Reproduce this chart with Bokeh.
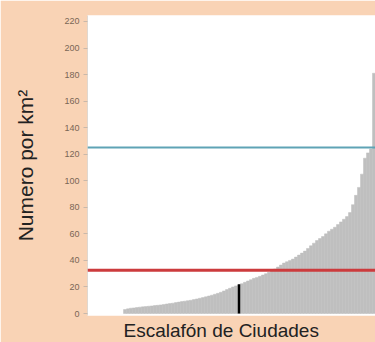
from bokeh.plotting import figure
from bokeh.models import Range1d, Span, Title, FixedTicker
from bokeh.embed import file_html
from bokeh.resources import INLINE

# Density (number per km²) by city, sorted ascending (city rank 0..83)
densities = [3, 3.5, 4, 4.2, 4.5, 4.8, 5, 5.2, 5.5, 5.7,
             6, 6.2, 6.5, 6.8, 7.2, 7.5, 7.8, 8.2, 8.6, 9,
             9.3, 9.7, 10, 10.5, 11, 11.5, 12, 12.6, 13.2, 13.8,
             14.5, 15.2, 16, 17, 18, 19, 20, 20.8, 21.5, 22.5,
             23.5, 24.5, 25.5, 26.5, 27.2, 28, 29, 30, 31, 32,
             33.5, 35, 36.5, 38, 39, 40, 41, 42.5, 44, 45.5,
             47, 49, 51, 53, 55, 56.5, 58, 60, 62, 63.5,
             65, 67, 69, 71, 73, 76, 82, 89, 95, 105,
             117, 121, 124, 181]
ranks = list(range(len(densities)))

# Reference levels
upper_level = 125
lower_level = 32.5

# Highlighted city marker
marker_rank = 38
marker_value = 22

y_ticks = [0, 20, 40, 60, 80, 100, 120, 140, 160, 180, 200, 220]

x_title = "Escalafón de Ciudades"
y_title = "Numero por km²"

BG = "#f9d3b5"

p = figure(width=375, height=342, output_backend="svg", toolbar_location=None,
           x_range=Range1d(-12, 84), y_range=Range1d(-1.5, 224.5),
           min_border_left=87, min_border_right=0, min_border_top=15,
           min_border_bottom=27)
p.background_fill_color = "white"
p.border_fill_color = BG
p.outline_line_color = None
p.grid.visible = False

p.vbar(x=[r + 0.5 for r in ranks], top=densities, width=1, bottom=0,
       fill_color="#bfbfbf", line_color="#bfbfbf", line_width=0.5)

p.segment(x0=[marker_rank + 0.5], x1=[marker_rank + 0.5], y0=[0], y1=[marker_value],
          line_color="black", line_width=2.5)

p.add_layout(Span(location=upper_level, dimension="width", line_color="#5fa3b5", line_width=2))
p.add_layout(Span(location=lower_level, dimension="width", line_color="#cc3b3d", line_width=3))

p.xaxis.visible = False

ya = p.yaxis[0]
ya.ticker = FixedTicker(ticks=y_ticks)
ya.minor_tick_line_color = None
ya.major_tick_in = 0
ya.major_tick_out = 4
ya.major_tick_line_color = "#c9b8aa"
ya.axis_line_color = "#e0d8d0"
ya.major_label_text_font = "Liberation Sans"
ya.major_label_text_font_size = "9px"
ya.major_label_text_color = "#7a6656"
ya.major_label_standoff = 4
ya.axis_label = y_title
ya.axis_label_text_font = "Liberation Sans"
ya.axis_label_text_font_style = "normal"
ya.axis_label_text_font_size = "21px"
ya.axis_label_text_color = "#222222"
ya.axis_label_standoff = 24

xt = Title(text=x_title, align="left", offset=36, vertical_align="bottom",
           text_font="Liberation Sans", text_font_size="19px",
           text_font_style="normal", text_color="#222222", standoff=4)
p.add_layout(xt, "below")

open("out.html", "w").write(file_html(p, INLINE))
